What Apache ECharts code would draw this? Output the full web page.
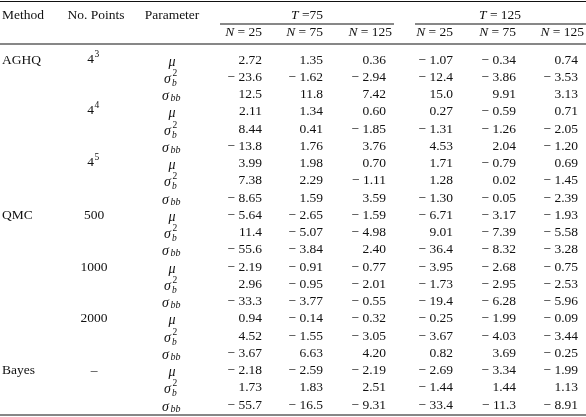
<!DOCTYPE html>
<html lang="en">
<head>
    <meta charset="UTF-8">
    <title>Table</title>
    <script src="https://cdn.jsdelivr.net/npm/echarts@6/dist/echarts.min.js"></script>
    <style>
        body { margin: 0; background: #fff; }
        #main { width: 586px; height: 417px; }
    </style>
</head>
<body>
    <div id="main"></div>
    <script>
        // 表格数据
        const methods = ['AGHQ', '', '', 'QMC', '', '', 'Bayes'];
        const points = [['4', '3'], ['4', '4'], ['4', '5'], ['500', ''], ['1000', ''], ['2000', ''], ['–', '']];
        const params = ['mu', 'sigb2', 'sigbb'];
        const colHeaders = ['25', '75', '125', '25', '75', '125'];
        const values = [
            [2.72, 1.35, 0.36, -1.07, -0.34, 0.74],
            ['-23.6', -1.62, -2.94, '-12.4', -3.86, -3.53],
            ['12.5', '11.8', 7.42, '15.0', 9.91, 3.13],
            [2.11, 1.34, '0.60', 0.27, -0.59, 0.71],
            [8.44, 0.41, -1.85, -1.31, -1.26, -2.05],
            ['-13.8', 1.76, 3.76, 4.53, 2.04, '-1.20'],
            [3.99, 1.98, '0.70', 1.71, -0.79, 0.69],
            [7.38, 2.29, -1.11, 1.28, 0.02, -1.45],
            [-8.65, 1.59, 3.59, '-1.30', -0.05, -2.39],
            [-5.64, -2.65, -1.59, -6.71, -3.17, -1.93],
            ['11.4', -5.07, -4.98, 9.01, -7.39, -5.58],
            ['-55.6', -3.84, '2.40', '-36.4', -8.32, -3.28],
            [-2.19, -0.91, -0.77, -3.95, -2.68, -0.75],
            [2.96, -0.95, -2.01, -1.73, -2.95, -2.53],
            ['-33.3', -3.77, -0.55, '-19.4', -6.28, -5.96],
            [0.94, -0.14, -0.32, -0.25, -1.99, -0.09],
            [4.52, -1.55, -3.05, -3.67, -4.03, -3.44],
            [-3.67, 6.63, '4.20', 0.82, 3.69, -0.25],
            [-2.18, -2.59, -2.19, -2.69, -3.34, -1.99],
            [1.73, 1.83, 2.51, -1.44, 1.44, 1.13],
            ['-55.7', '-16.5', -9.31, '-33.4', '-11.3', -8.91]
        ];

        const font = '"Liberation Serif", "DejaVu Serif", serif';
        const colRight = [262, 323, 386, 453, 516, 578];
        const rowTop = 60, rowH = 17.25;
        const els = [];

        function txt(x, y, s, opt) {
            opt = opt || {};
            els.push({
                type: 'text', x: x, y: y,
                style: {
                    text: s, fill: '#111', font: (opt.italic ? 'italic ' : '') + (opt.size || 13.5) + 'px ' + font,
                    textAlign: opt.align || 'left', textVerticalAlign: 'middle',
                    rich: opt.rich
                }
            });
        }
        function rule(x1, x2, y, w) {
            els.push({ type: 'line', shape: { x1: x1, y1: y, x2: x2, y2: y }, style: { stroke: '#111', lineWidth: w || 1 } });
        }
        function fmt(v) {
            const s = typeof v === 'string' ? v : v.toFixed(2);
            return s.charAt(0) === '-' ? '\u2212 ' + s.slice(1) : s;
        }
        const richI = { i: { fontStyle: 'italic', fontSize: 13.5, fontFamily: font, fill: '#111' } };

        // 表头
        rule(0, 586, 1.5, 1.2);
        txt(2, 15, 'Method');
        txt(96, 15, 'No. Points', { align: 'center' });
        txt(172, 15, 'Parameter', { align: 'center' });
        txt(291, 15, '{i|T} =75', { rich: richI });
        txt(479, 15, '{i|T} = 125', { rich: richI });
        rule(220, 394, 24);
        rule(415, 586, 24);
        colHeaders.forEach((h, i) => {
            txt(colRight[i] + (i === 2 || i === 5 ? 6 : 0), 32, '{i|N} = ' + h, { align: 'right', rich: richI });
        });
        rule(0, 586, 44, 1.2);

        // 数据行
        methods.forEach((m, g) => {
            const y0 = rowTop + g * 3 * rowH;
            if (m) txt(2, y0, m);
            const p = points[g];
            if (p[1]) {
                txt(94, y0 - 1, p[0], { align: 'right' });
                txt(94.5, y0 - 6, p[1], { size: 9.5 });
            } else {
                txt(94, y0, p[0], { align: 'center' });
            }
            params.forEach((pn, k) => {
                const y = y0 + k * rowH;
                if (pn === 'mu') {
                    txt(172, y + 2, 'μ', { italic: true, align: 'center', size: 14 });
                } else if (pn === 'sigb2') {
                    txt(164, y + 2, 'σ', { italic: true, size: 14 });
                    txt(172.5, y - 4, '2', { size: 9.5 });
                    txt(172, y + 6, 'b', { size: 9.5, italic: true });
                } else {
                    txt(162, y + 2, 'σ', { italic: true, size: 14 });
                    txt(170.5, y + 4, 'bb', { size: 10, italic: true });
                }
                values[g * 3 + k].forEach((v, c) => txt(colRight[c], y, fmt(v), { align: 'right' }));
            });
        });
        rule(0, 586, 415, 1.2);

        const myChart = echarts.init(document.getElementById('main'));
        myChart.setOption({ animation: false, graphic: { elements: els } });
    </script>
</body>
</html>
